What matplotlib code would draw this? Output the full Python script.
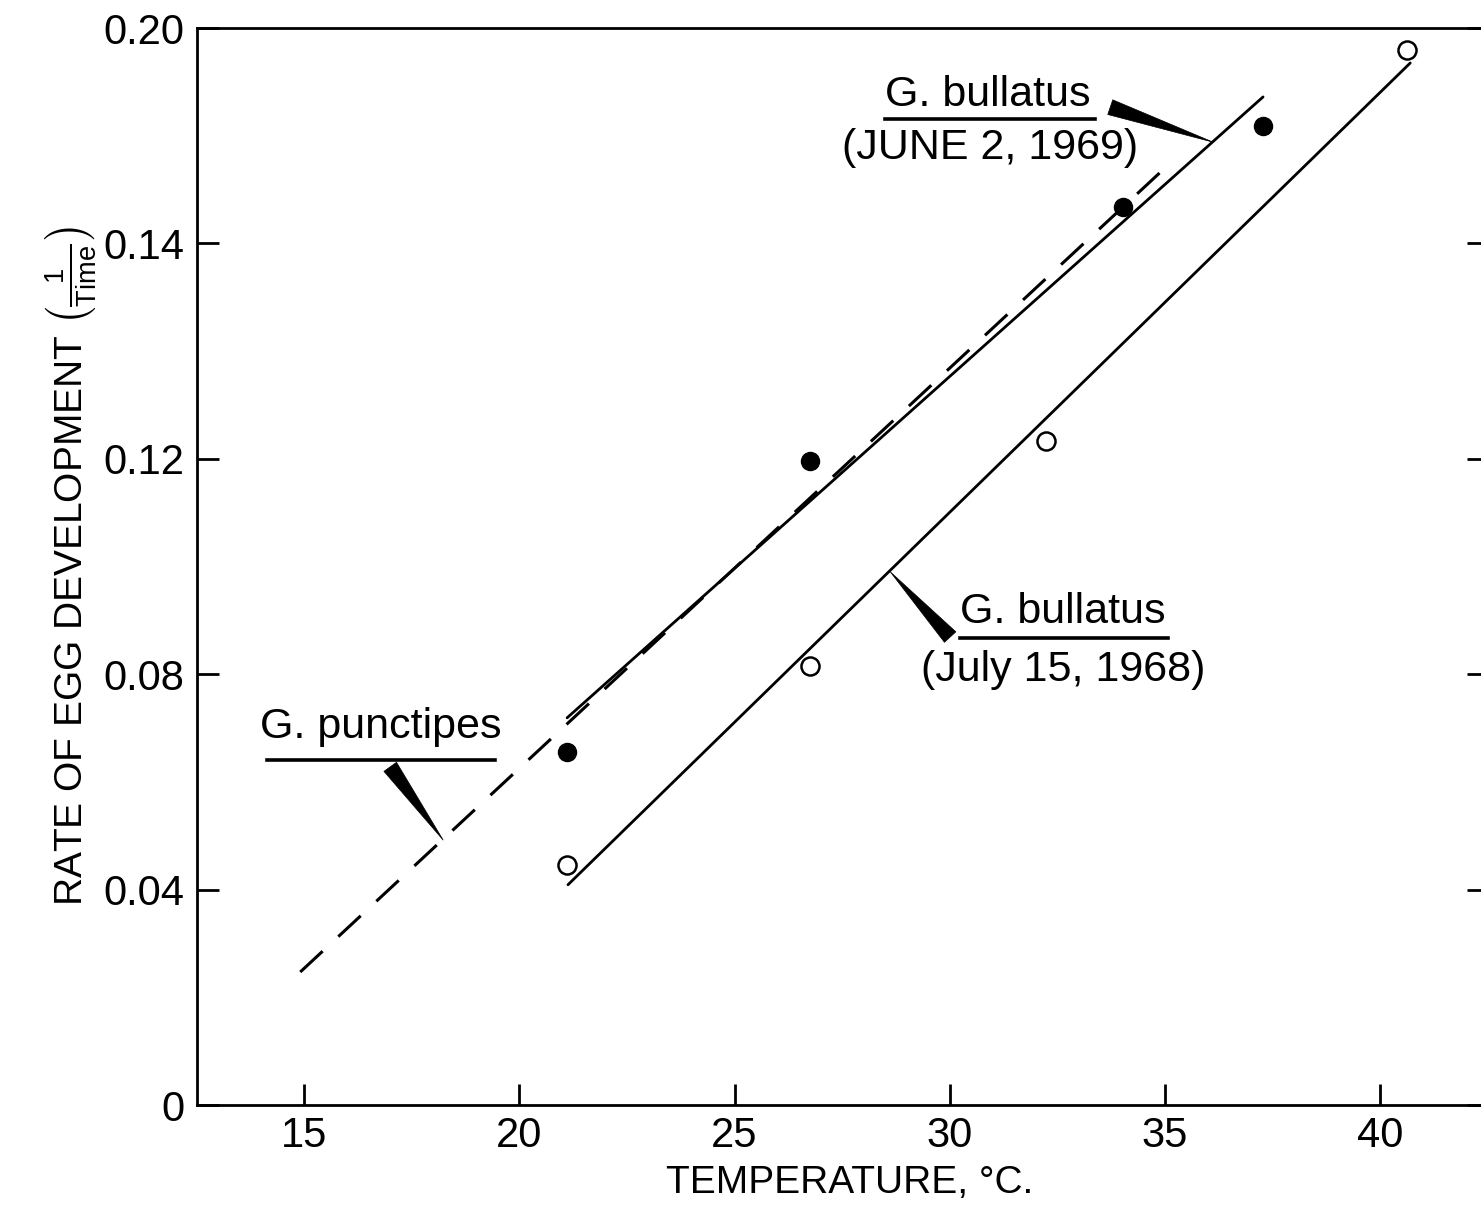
import matplotlib
matplotlib.use("Agg")
import matplotlib.pyplot as plt
from matplotlib import font_manager

# ---------------- data ----------------
june_temp = [21.1, 26.76, 34.03, 37.28]
june_rate = [0.0656, 0.1196, 0.1668, 0.1818]

july_temp = [21.1, 26.76, 32.24, 40.63]
july_rate = [0.0446, 0.0815, 0.1233, 0.1959]

june_fit_temp = [21.11, 37.28]
june_fit_rate = [0.0719, 0.1872]

july_fit_temp = [21.13, 40.70]
july_fit_rate = [0.0409, 0.1935]

punct_fit_temp = [14.91, 35.0]
punct_fit_rate = [0.0247, 0.1740]

x_ticks = [15, 20, 25, 30, 35, 40]
y_ticks = [0, 0.04, 0.08, 0.12, 0.16, 0.20]
y_tick_labels = ["0", "0.04", "0.08", "0.12", "0.14", "0.20"]

# ---------------- style ----------------
names = {f.name for f in font_manager.fontManager.ttflist}
FONT = "DejaVu Sans"
for cand in ["Liberation Sans Narrow", "Liberation Sans", "Arial"]:
    if cand in names:
        FONT = cand
        break
plt.rcParams["font.family"] = [FONT, "DejaVu Sans"]
plt.rcParams["mathtext.fontset"] = "custom"
plt.rcParams["mathtext.rm"] = FONT
plt.rcParams["mathtext.it"] = FONT
plt.rcParams["mathtext.bf"] = FONT
FS_TICK = 30
FS_LAB = 28
FS_ANN = 31

fig = plt.figure(figsize=(14.81, 12.07), dpi=100)
ax = fig.add_axes([0.1330, 0.0845, 0.8724, 0.8923])

ax.set_xlim(12.51, 42.53)
ax.set_ylim(0, 0.20)

for s in ax.spines.values():
    s.set_linewidth(2.0)
    s.set_color("black")

ax.set_xticks(x_ticks)
ax.set_xticklabels([str(t) for t in x_ticks])
ax.set_yticks(y_ticks)
ax.set_yticklabels(y_tick_labels)
ax.tick_params(axis="x", direction="in", length=15, width=2, labelsize=FS_TICK, pad=8)
ax.tick_params(axis="y", direction="in", length=16, width=2, labelsize=FS_TICK, pad=9,
               right=True)

# fitted lines
ax.plot(june_fit_temp, june_fit_rate, color="black", lw=2.0, solid_capstyle="round")
ax.plot(july_fit_temp, july_fit_rate, color="black", lw=2.0, solid_capstyle="round")
ax.plot(punct_fit_temp, punct_fit_rate, color="black", lw=2.2,
        dashes=(10, 7))

# points
ax.plot(june_temp, june_rate, "o", color="black", ms=13, zorder=5)
ax.plot(july_temp, july_rate, "o", mfc="white", mec="black", mew=1.8, ms=13, zorder=5)

# axis labels
ax.set_xlabel("TEMPERATURE, °C.", fontsize=FS_LAB, va="center")
ax.xaxis.set_label_coords(0.505, -0.072)
ax.set_ylabel(r"RATE OF EGG DEVELOPMENT $\left(\frac{1}{\mathrm{Time}}\right)$",
              fontsize=FS_LAB, va="center")
ax.yaxis.set_label_coords(-0.098, 0.5)

# annotations: species names (underlined) and dates
def species(x, y, name, ul_x0, ul_x1, ul_y):
    ax.text(x, y, name, fontsize=FS_ANN, ha="center", va="center")
    ax.plot([ul_x0, ul_x1], [ul_y, ul_y], color="black", lw=2.6)

species(30.89, 0.1876, "G. bullatus", 28.50, 33.38, 0.1831)
ax.text(30.94, 0.1777, "(JUNE 2, 1969)", fontsize=FS_ANN, ha="center", va="center")

species(32.63, 0.0916, "G. bullatus", 30.24, 35.07, 0.0867)
ax.text(32.63, 0.0808, "(July 15, 1968)", fontsize=FS_ANN, ha="center", va="center")

species(16.77, 0.0702, "G. punctipes", 14.14, 19.44, 0.0641)

wedge = dict(arrowstyle="wedge,tail_width=0.36,shrink_factor=0.5",
             color="black", shrinkA=0, shrinkB=0, lw=0.5)
ax.annotate("", xy=(36.12, 0.1788), xytext=(33.73, 0.1853), arrowprops=wedge,
            fontsize=FS_ANN)
ax.annotate("", xy=(28.62, 0.0990), xytext=(30.01, 0.0869), arrowprops=wedge,
            fontsize=FS_ANN)
ax.annotate("", xy=(18.23, 0.0492), xytext=(17.0, 0.0628), arrowprops=wedge,
            fontsize=FS_ANN)

fig.savefig("out.png", dpi=100)
